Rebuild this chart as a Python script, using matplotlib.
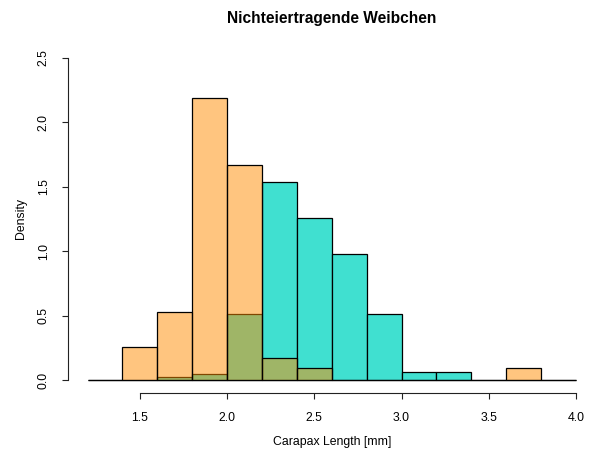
#!/usr/bin/env python3

import matplotlib
matplotlib.use('Agg')
import matplotlib.pyplot as plt
import numpy as np

# bin edges of both histograms (width 0.2 mm)
breaks = [1.2, 1.4, 1.6, 1.8, 2.0, 2.2, 2.4, 2.6, 2.8, 3.0, 3.2, 3.4, 3.6, 3.8, 4.0]

# densities per bin
dens_turq = [0, 0, 0.02, 0.045, 0.51, 1.54, 1.26, 0.98, 0.51, 0.065, 0.065, 0, 0, 0]
dens_orange = [0, 0.26, 0.53, 2.19, 1.67, 0.17, 0.09, 0, 0, 0, 0, 0, 0.09, 0]

title = 'Nichteiertragende Weibchen'
xlab = 'Carapax Length [mm]'
ylab = 'Density'
xticks = [1.5, 2.0, 2.5, 3.0, 3.5, 4.0]
yticks = [0.0, 0.5, 1.0, 1.5, 2.0, 2.5]

plt.rcParams['font.family'] = ['Liberation Sans', 'DejaVu Sans']

fig = plt.figure(figsize=(5.89, 4.57), dpi=100)
# R-like plot region; it runs a bit past the right edge of the device
ax = fig.add_axes([0.1154, 0.1403, 0.8958, 0.761])

left = np.array(breaks[:-1])
width = np.diff(breaks)

ax.bar(left, dens_turq, width=width, align='edge',
       color='#40E0D0', edgecolor='black', linewidth=0.9, zorder=2)
ax.bar(left, dens_orange, width=width, align='edge',
       facecolor=(1.0, 0.549, 0.0, 0.5), edgecolor='black', linewidth=0.9, zorder=3)

ax.set_xlim(1.088, 4.112)
ax.set_ylim(-0.1, 2.6)

for s in ['top', 'right']:
    ax.spines[s].set_visible(False)
ax.spines['left'].set_bounds(0, 2.5)
ax.spines['bottom'].set_bounds(1.5, 4.0)
for s in ['left', 'bottom']:
    ax.spines[s].set_linewidth(0.8)
    ax.spines[s].set_color('#222222')

ax.set_xticks(xticks)
ax.set_xticklabels(['{:.1f}'.format(t) for t in xticks])
ax.set_yticks(yticks)
ax.set_yticklabels(['{:.1f}'.format(t) for t in yticks], rotation=90, va='center')
ax.tick_params(axis='both', length=4, width=0.8, colors='#222222',
               labelsize=8.8, labelcolor='black')
ax.tick_params(axis='x', pad=9.5)
ax.tick_params(axis='y', pad=9)

ax.set_xlabel(xlab, fontsize=8.8, labelpad=9)
ax.set_ylabel(ylab, fontsize=8.8, labelpad=8)
ax.set_title(title, fontsize=11.2, fontweight='bold', pad=16)

plt.savefig('out.png', dpi=100)
